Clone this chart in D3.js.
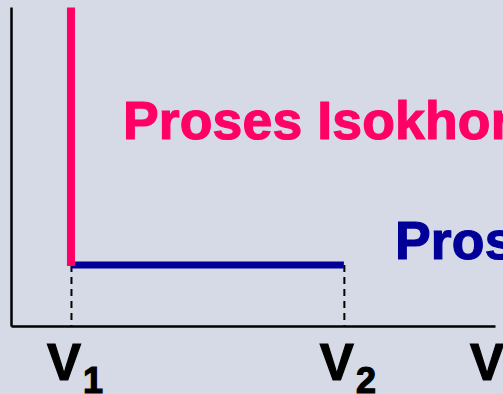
<!DOCTYPE html>
<html>
<head>
<meta charset="utf-8">
<script src="https://cdn.jsdelivr.net/npm/d3@7"></script>
<style>
  html, body { margin: 0; padding: 0; background: #d5dae6; overflow: hidden; }
  svg { display: block; font-family: "Liberation Sans", Arial, sans-serif; font-weight: bold; }
</style>
</head>
<body>
<div id="chart"></div>
<script>
// P-V diagram: isochoric then isobaric process
const width = 503;
const height = 394;

const volumes = [1, 5.55];          // V1, V2
const volumeSubs = ["1", "2"];
const pressures = [1, 5.22];        // P at isobar, P at top of isochor
const axisMax = { v: 8.07, p: 5.23 };
const processNames = ["Proses Isokhorik", "Proses Isobarik"];

const x = d3.scaleLinear().domain([0, axisMax.v]).range([11, 495]);
const y = d3.scaleLinear().domain([0, axisMax.p]).range([326, 7]);

const svg = d3.select("#chart")
    .append("svg")
    .attr("width", width)
    .attr("height", height);

// axes (no ticks, just the lines)
svg.append("g")
    .attr("transform", `translate(0,${y(0)})`)
    .call(d3.axisBottom(x).tickValues([]).tickSizeOuter(0))
    .call(g => g.select(".domain").attr("stroke", "#000").attr("stroke-width", 2.5));

svg.append("g")
    .attr("transform", `translate(${x(0)},0)`)
    .call(d3.axisLeft(y).tickValues([]).tickSizeOuter(0))
    .call(g => g.select(".domain").attr("stroke", "#000").attr("stroke-width", 2.5));

// dashed drop lines
svg.append("g")
    .selectAll("line")
    .data(volumes)
    .enter().append("line")
    .attr("x1", d => x(d) + 0.5)
    .attr("x2", d => x(d) + 0.5)
    .attr("y1", y(pressures[0]))
    .attr("y2", y(0))
    .attr("stroke", "#000")
    .attr("stroke-width", 2)
    .attr("stroke-dasharray", "7,5");

// isobaric (blue)
svg.append("line")
    .attr("x1", x(volumes[0]))
    .attr("x2", x(volumes[1]))
    .attr("y1", y(pressures[0]))
    .attr("y2", y(pressures[0]))
    .attr("stroke", "#000099")
    .attr("stroke-width", 7);

// isochoric (pink)
svg.append("line")
    .attr("x1", x(volumes[0]))
    .attr("x2", x(volumes[0]))
    .attr("y1", y(pressures[1]))
    .attr("y2", y(pressures[0]) + 1)
    .attr("stroke", "#ff0066")
    .attr("stroke-width", 8);

// process labels (thin stroke to get the heavy look)
svg.append("text")
    .attr("x", x(volumes[0]) + 52)
    .attr("y", 139)
    .attr("font-size", 53.5)
    .attr("letter-spacing", 0.15)
    .attr("fill", "#ff0066")
    .attr("stroke", "#ff0066")
    .attr("stroke-width", 1.2)
    .text(processNames[0]);

svg.append("text")
    .attr("x", 395)
    .attr("y", y(pressures[0]) - 6)
    .attr("font-size", 53.5)
    .attr("letter-spacing", 0.15)
    .attr("fill", "#000099")
    .attr("stroke", "#000099")
    .attr("stroke-width", 1.2)
    .text(processNames[1]);

// V1, V2 labels
const vl = svg.append("g")
    .attr("stroke", "#000")
    .attr("stroke-width", 1.2)
    .selectAll("text")
    .data(volumes)
    .enter().append("text")
    .attr("x", d => x(d) - 24)
    .attr("y", 380)
    .attr("font-size", 51)
    .attr("fill", "#000");
vl.append("tspan").text("V");
vl.append("tspan")
    .attr("font-size", 36)
    .attr("dy", 13)
    .attr("dx", 2)
    .text((d, i) => volumeSubs[i]);

// axis label
svg.append("text")
    .attr("x", 470)
    .attr("y", 380)
    .attr("font-size", 51)
    .attr("fill", "#000")
    .attr("stroke", "#000")
    .attr("stroke-width", 1.2)
    .text("V");
</script>
</body>
</html>
